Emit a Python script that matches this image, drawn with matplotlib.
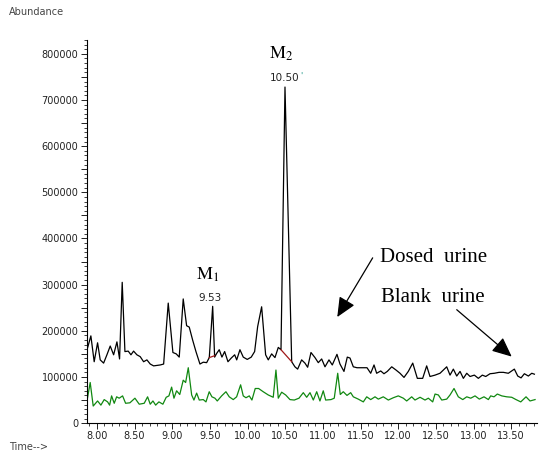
import numpy as np
import matplotlib
matplotlib.use("Agg")
import matplotlib.pyplot as plt
from matplotlib.ticker import MultipleLocator, FuncFormatter

plt.rcParams['mathtext.fontset'] = 'stix'

# retention time (min) and abundance, dosed urine (black trace)
dosed_time = [7.876, 7.920, 7.964, 8.009, 8.044, 8.089, 8.133, 8.177, 8.222, 8.266,
              8.301, 8.336, 8.372, 8.416, 8.452, 8.487, 8.531, 8.575, 8.620, 8.664,
              8.708, 8.753, 8.797, 8.841, 8.886, 8.947, 9.009, 9.053, 9.093, 9.146,
              9.191, 9.226, 9.271, 9.315, 9.368, 9.412, 9.457, 9.492, 9.537, 9.563,
              9.590, 9.624, 9.660, 9.696, 9.740, 9.784, 9.829, 9.856, 9.899, 9.943,
              9.996, 10.049, 10.094, 10.134, 10.187, 10.240, 10.275, 10.320, 10.364, 10.408,
              10.444, 10.497, 10.541, 10.586, 10.629, 10.665, 10.718, 10.762, 10.798, 10.842,
              10.895, 10.939, 10.984, 11.028, 11.081, 11.125, 11.187, 11.227, 11.280, 11.324,
              11.360, 11.404, 11.453, 11.519, 11.586, 11.635, 11.679, 11.714, 11.768, 11.811,
              11.855, 11.914, 11.971, 12.024, 12.077, 12.134, 12.193, 12.254, 12.325, 12.378,
              12.422, 12.489, 12.555, 12.599, 12.644, 12.688, 12.732, 12.777, 12.821, 12.865,
              12.910, 12.954, 13.011, 13.064, 13.117, 13.162, 13.219, 13.276, 13.339, 13.396,
              13.462, 13.542, 13.587, 13.631, 13.675, 13.728, 13.773, 13.808]
dosed_abund = [163000, 189000, 133000, 174000, 137000, 130000, 148000, 167000, 148000, 176000,
               139000, 305000, 155000, 156000, 148000, 156000, 148000, 144000, 133000, 137000,
               128000, 124000, 125000, 126000, 128000, 260000, 153000, 150000, 143000, 269000,
               211000, 208000, 180000, 155000, 128000, 132000, 131000, 142000, 253000, 143000,
               151000, 159000, 143000, 155000, 133000, 141000, 148000, 137000, 159000, 143000,
               138000, 143000, 155000, 209000, 252000, 148000, 137000, 150000, 142000, 164000,
               159000, 728000, 430000, 133000, 122000, 117000, 137000, 130000, 121000, 153000,
               142000, 131000, 139000, 122000, 137000, 126000, 149000, 128000, 112000, 143000,
               141000, 122000, 120000, 120000, 120000, 108000, 126000, 108000, 113000, 107000,
               112000, 122000, 115000, 108000, 99000, 112000, 130000, 97000, 97000, 124000,
               101000, 104000, 108000, 115000, 122000, 104000, 117000, 102000, 112000, 97000,
               108000, 101000, 104000, 97000, 104000, 101000, 107000, 108000, 110000, 110000,
               108000, 117000, 102000, 98000, 107000, 102000, 108000, 106000]

# blank urine (green trace)
blank_time = [7.863, 7.911, 7.951, 8.009, 8.053, 8.097, 8.142, 8.169, 8.195, 8.230,
              8.262, 8.296, 8.341, 8.381, 8.438, 8.505, 8.562, 8.628, 8.673, 8.708,
              8.744, 8.780, 8.823, 8.876, 8.920, 8.956, 8.992, 9.023, 9.058, 9.100,
              9.146, 9.178, 9.213, 9.258, 9.288, 9.324, 9.359, 9.412, 9.448, 9.491,
              9.527, 9.567, 9.598, 9.656, 9.713, 9.757, 9.810, 9.855, 9.908, 9.943,
              9.979, 10.023, 10.058, 10.102, 10.147, 10.208, 10.275, 10.341, 10.377, 10.408,
              10.453, 10.506, 10.563, 10.620, 10.683, 10.740, 10.785, 10.829, 10.873, 10.918,
              10.961, 11.005, 11.037, 11.108, 11.151, 11.197, 11.231, 11.271, 11.320, 11.369,
              11.404, 11.470, 11.537, 11.582, 11.635, 11.692, 11.736, 11.802, 11.869, 11.935,
              12.001, 12.068, 12.113, 12.179, 12.223, 12.290, 12.356, 12.400, 12.458, 12.489,
              12.533, 12.578, 12.644, 12.688, 12.741, 12.798, 12.857, 12.910, 12.963, 13.020,
              13.077, 13.139, 13.197, 13.228, 13.272, 13.316, 13.375, 13.441, 13.507, 13.564,
              13.627, 13.697, 13.750, 13.817]
blank_abund = [43000, 88000, 37000, 48000, 39000, 51000, 46000, 39000, 59000, 43000,
               57000, 54000, 59000, 43000, 44000, 54000, 41000, 43000, 57000, 41000,
               48000, 39000, 46000, 41000, 56000, 59000, 78000, 54000, 70000, 62000,
               93000, 88000, 120000, 61000, 50000, 65000, 50000, 51000, 46000, 68000,
               57000, 54000, 48000, 59000, 68000, 57000, 51000, 57000, 83000, 59000,
               55000, 59000, 50000, 75000, 75000, 68000, 61000, 56000, 115000, 54000,
               67000, 61000, 51000, 50000, 54000, 66000, 56000, 66000, 50000, 68000,
               48000, 70000, 50000, 51000, 54000, 108000, 62000, 68000, 60000, 66000,
               57000, 52000, 46000, 57000, 51000, 57000, 52000, 57000, 50000, 55000,
               59000, 54000, 48000, 57000, 50000, 56000, 50000, 54000, 46000, 63000,
               61000, 50000, 52000, 61000, 75000, 57000, 51000, 57000, 54000, 59000,
               52000, 57000, 51000, 59000, 57000, 63000, 59000, 57000, 56000, 51000,
               46000, 57000, 48000, 51000]

# integration baselines of the two marked peaks
m1_base_time = [9.492, 9.563]
m1_base_abund = [142000, 146000]
m2_base_time = [10.444, 10.586]
m2_base_abund = [159000, 133000]

fig = plt.figure(figsize=(5.43, 4.54), dpi=100)
ax = fig.add_axes([0.160, 0.068, 0.829, 0.844])

ax.plot(dosed_time, dosed_abund, color='black', lw=0.9)
ax.plot(blank_time, blank_abund, color='#118811', lw=0.9)
ax.plot(m1_base_time, m1_base_abund, color='#a01818', lw=0.9)
ax.plot(m2_base_time, m2_base_abund, color='#a01818', lw=0.9)

ax.set_xlim(7.867, 13.843)
ax.set_ylim(0, 830000)

for s in ['top', 'right']:
    ax.spines[s].set_visible(False)
for s in ['left', 'bottom']:
    ax.spines[s].set_linewidth(0.8)

ax.xaxis.set_major_locator(MultipleLocator(0.5))
ax.xaxis.set_minor_locator(MultipleLocator(0.1))
ax.xaxis.set_major_formatter(FuncFormatter(lambda v, p: '%.2f' % v))
ax.yaxis.set_major_locator(MultipleLocator(50000))
ax.yaxis.set_minor_locator(MultipleLocator(10000))
ax.yaxis.set_major_formatter(FuncFormatter(lambda v, p: '%d' % v if round(v) % 100000 == 0 else ''))
ax.tick_params(which='major', length=4, width=0.7, labelsize=7, colors='#222222', pad=2)
ax.tick_params(which='minor', length=2, width=0.6, colors='#222222')

# peak labels
ax.text(9.474, 322000, r'$\mathrm{M}_1$', fontsize=13, ha='center', va='center')
ax.text(9.50, 270000, '9.53', fontsize=7.5, ha='center', va='center', color='#222222')
ax.text(10.443, 800000, r'$\mathrm{M}_2$', fontsize=13, ha='center', va='center')
ax.text(10.490, 748000, '10.50', fontsize=7.5, ha='center', va='center', color='#222222')
ax.text(10.72, 752000, "'", fontsize=6, ha='center', va='center', color='#2a9d8f')

# trace labels and arrows
ax.text(11.758, 358000, 'Dosed  urine', fontsize=15, family='Liberation Serif',
        ha='left', va='center')
ax.text(11.77, 272000, 'Blank  urine', fontsize=15, family='Liberation Serif',
        ha='left', va='center')
arrow = dict(arrowstyle='-|>,head_length=1.0,head_width=0.45', color='black',
             lw=0.9, mutation_scale=12, shrinkA=0, shrinkB=0)
ax.annotate('', xy=(11.191, 229800), xytext=(11.661, 358000), arrowprops=arrow)
ax.annotate('', xy=(13.507, 144100), xytext=(12.777, 245700), arrowprops=arrow)

fig.text(0.017, 0.974, 'Abundance', fontsize=7, color='#444444', ha='left', va='center')
fig.text(0.017, 0.015, 'Time-->', fontsize=7, color='#444444', ha='left', va='center')

fig.savefig('out.png', dpi=100)
